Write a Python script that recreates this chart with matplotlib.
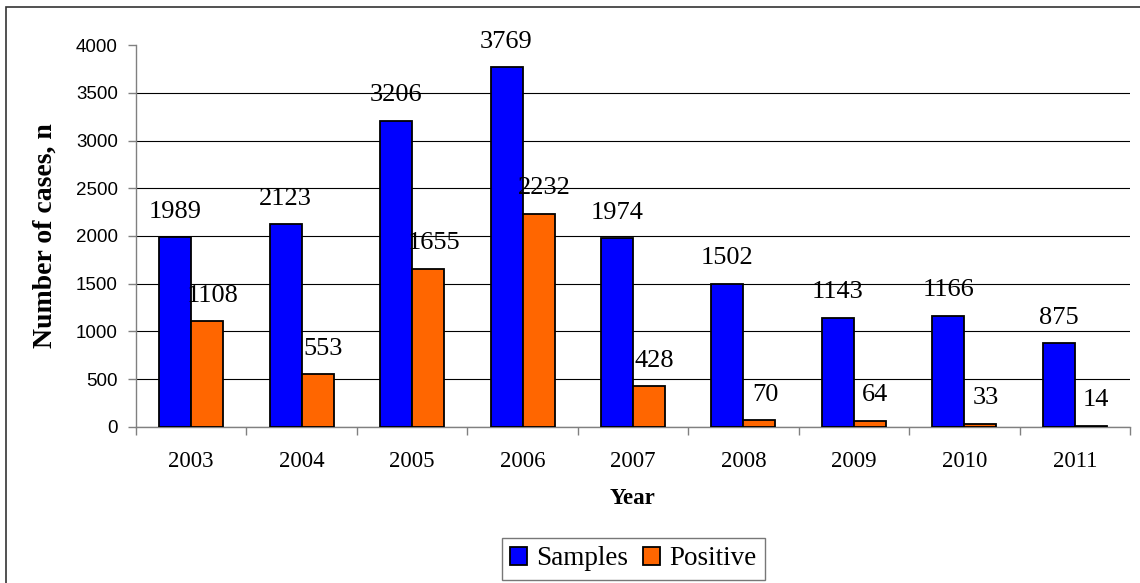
import matplotlib
matplotlib.use("Agg")
import matplotlib.pyplot as plt
import matplotlib.patches as patches
import numpy as np

plt.rcParams["font.family"] = ["Liberation Serif", "DejaVu Serif"]

# survey counts per year
years = ["2003", "2004", "2005", "2006", "2007", "2008", "2009", "2010", "2011"]
samples = [1989, 2123, 3206, 3769, 1974, 1502, 1143, 1166, 875]
positive = [1108, 553, 1655, 2232, 428, 70, 64, 33, 14]
y_ticks = [0, 500, 1000, 1500, 2000, 2500, 3000, 3500, 4000]

BLUE = "#0000FF"
ORANGE = "#FF6600"
GRAY = "#808080"

fig = plt.figure(figsize=(11.4, 5.83), dpi=100)
ax = fig.add_axes([0.1193, 0.2676, 0.9912 - 0.1193, 0.9228 - 0.2676])

x = np.arange(len(years))
w = 0.29
b1 = ax.bar(x - w / 2, samples, w, color=BLUE, edgecolor="black", linewidth=1.3,
            label="Samples", zorder=3)
b2 = ax.bar(x + w / 2, positive, w, color=ORANGE, edgecolor="black", linewidth=1.3,
            label="Positive", zorder=3)

# value labels above each bar (orange ones sit a little to the right)
for bars, vals, dx in ((b1, samples, 0), (b2, positive, 4)):
    for rect, v in zip(bars, vals):
        ax.annotate(str(v), (rect.get_x() + rect.get_width() / 2, v),
                    xytext=(dx, 14), textcoords="offset points",
                    ha="center", va="baseline", fontsize=19, zorder=4)

ax.set_xlim(-0.5, len(years) - 0.5)
ax.set_ylim(0, 4000)
ax.set_yticks(y_ticks)
ax.set_yticklabels([str(t) for t in y_ticks], family=["Liberation Sans", "DejaVu Sans"],
                   fontsize=13.5)

# ticks on category boundaries, labels at category centres
ax.set_xticks(np.arange(len(years) + 1) - 0.5)
ax.set_xticklabels([])
ax.set_xticks(x, minor=True)
ax.set_xticklabels(years, minor=True, fontsize=16.5)
ax.tick_params(axis="x", which="minor", length=0, pad=17)
ax.tick_params(axis="x", which="major", length=6, color=GRAY, width=1)
ax.tick_params(axis="y", length=6, color=GRAY, width=1, pad=7)

ax.yaxis.grid(True, color="black", linewidth=0.8, zorder=0)
ax.set_axisbelow(True)
ax.yaxis.get_gridlines()[-1].set_visible(False)

for s in ("top", "right"):
    ax.spines[s].set_visible(False)
for s in ("left", "bottom"):
    ax.spines[s].set_color(GRAY)
    ax.spines[s].set_linewidth(1)

ax.set_ylabel("Number of cases, n", fontsize=20, fontweight="bold", labelpad=13)
ax.set_xlabel("Year", fontsize=16.5, fontweight="bold", labelpad=12)

leg = fig.legend(handles=[b1, b2], loc="center", bbox_to_anchor=(0.5555, 0.0412),
                 ncol=2, fontsize=19.5, frameon=True, fancybox=False,
                 handlelength=0.62, handleheight=0.62, handletextpad=0.35,
                 columnspacing=0.55, borderpad=0.3, borderaxespad=0)
leg.get_frame().set_edgecolor("#555555")
leg.get_frame().set_linewidth(1)

# outer chart frame
fig.add_artist(patches.Rectangle((0.0053, -0.05), 1.1, 0.988 + 0.05,
                                 transform=fig.transFigure, fill=False,
                                 edgecolor="#333333", linewidth=1.2))

fig.savefig("out.png", dpi=100)
